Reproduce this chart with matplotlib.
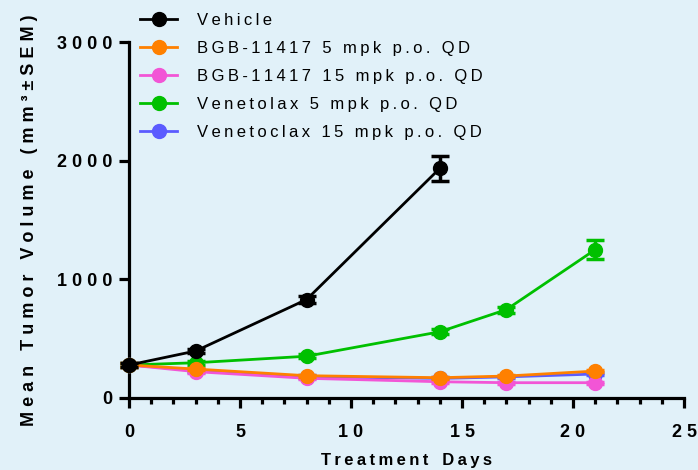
import matplotlib.pyplot as plt
from matplotlib.lines import Line2D
from matplotlib.ticker import MultipleLocator, FuncFormatter

plt.rcParams['font.family'] = ['Liberation Sans', 'DejaVu Sans']

# data
days_vehicle = [0, 3, 8, 14]
vehicle = [278, 396, 830, 1935]
vehicle_sem = [15, 20, 30, 105]

days = [0, 3, 8, 14, 17, 21]
bgb_5 = [278, 244, 188, 171, 185, 227]
bgb_5_sem = [15, 12, 10, 10, 10, 12]
bgb_15 = [278, 222, 166, 137, 129, 129]
bgb_15_sem = [15, 12, 10, 10, 10, 10]
ven_5 = [278, 297, 352, 558, 745, 1250]
ven_5_sem = [15, 15, 15, 20, 25, 80]
ven_15 = [278, 235, 180, 165, 178, 202]
ven_15_sem = [15, 12, 10, 10, 10, 12]

labels = ['Vehicle', 'BGB-11417 5 mpk p.o. QD', 'BGB-11417 15 mpk p.o. QD',
          'Venetolax 5 mpk p.o. QD', 'Venetoclax 15 mpk p.o. QD']
colors = ['#000000', '#FF8000', '#F255D6', '#00C000', '#5B5BFF']

bg = '#E1F1F9'
TS = '\u2009'


def spaced(s, sep=TS):
    return sep.join(s)


fig = plt.figure(figsize=(6.98, 4.70), dpi=100, facecolor=bg)
ax = fig.add_axes([129 / 698, 1 - 398 / 470, (684 - 129) / 698, (398 - 42) / 470])
ax.set_facecolor(bg)

series = [
    (days_vehicle, vehicle, vehicle_sem, 0, 6),
    (days, ven_5, ven_5_sem, 3, 5),
    (days, ven_15, ven_15_sem, 4, 4),
    (days, bgb_15, bgb_15_sem, 2, 4.5),
    (days, bgb_5, bgb_5_sem, 1, 5.5),
]
for x, y, e, i, z in series:
    h = ax.errorbar(x, y, yerr=e, color=colors[i], lw=2.0, marker='o', ms=10,
                    capsize=6.5, capthick=2.5, elinewidth=2.5, zorder=z)
    for a in (h.lines[0],) + tuple(h.lines[1]) + tuple(h.lines[2]):
        a.set_clip_on(False)

ax.set_xlim(0, 25)
ax.set_ylim(0, 3000)
ax.xaxis.set_major_locator(MultipleLocator(5))
ax.xaxis.set_minor_locator(MultipleLocator(1))
ax.yaxis.set_major_locator(MultipleLocator(1000))
fmt = FuncFormatter(lambda v, p: spaced(str(int(v)), ' '))
ax.xaxis.set_major_formatter(fmt)
ax.yaxis.set_major_formatter(fmt)

for s in ['top', 'right']:
    ax.spines[s].set_visible(False)
for s in ['left', 'bottom']:
    ax.spines[s].set_linewidth(2.3)
ax.tick_params(which='major', length=7, width=2.3, labelsize=13, pad=5)
ax.tick_params(axis='x', which='minor', length=4, width=2.3)
for t in ax.get_xticklabels() + ax.get_yticklabels():
    t.set_fontweight('bold')
ax.tick_params(axis='x', pad=12)

ax.set_xlabel(spaced('Treatment') + '   ' + spaced('Days'), fontsize=12,
              fontweight='bold', labelpad=8)
ax.set_ylabel(spaced('Mean', ' ') + '   ' + spaced('Tumor', ' ') + '   '
              + spaced('Volume', ' ') + '   ' + spaced('(mm\u00b3\u00b1SEM)', ' '),
              fontsize=13, fontweight='bold', labelpad=14)

handles = [Line2D([], [], color=c, lw=2.0, marker='o', ms=10) for c in colors]
ax.legend(handles, [spaced(l) for l in labels],
          loc='upper left', bbox_to_anchor=(132 / 698, 1 - 5 / 470),
          bbox_transform=fig.transFigure, frameon=False, fontsize=12,
          borderpad=0, handlelength=2.2, handletextpad=1.2,
          labelspacing=0.78)

fig.savefig('out.png', dpi=100, facecolor=bg)
